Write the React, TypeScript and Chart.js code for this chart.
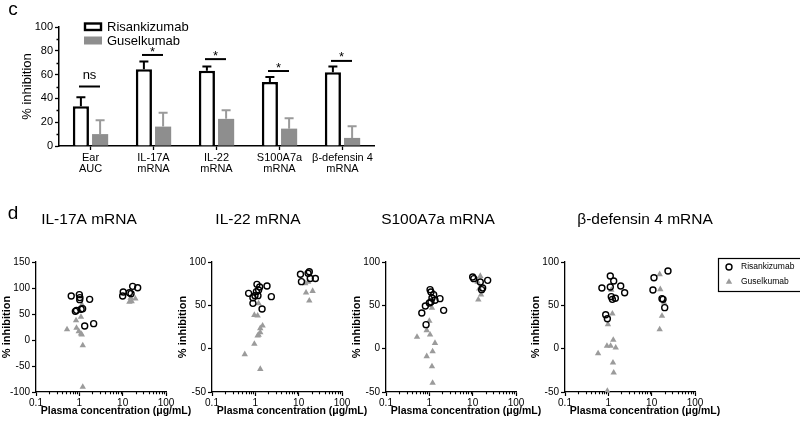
import React, { useEffect, useRef } from 'react';
import { Chart, registerables } from 'chart.js';

Chart.register(...registerables);

const FAMILY = '"Liberation Sans", Arial, Helvetica, sans-serif';

// ---------- Panel c: bar chart ----------
const barCategories = [
  ['Ear', 'AUC'],
  ['IL-17A', 'mRNA'],
  ['IL-22', 'mRNA'],
  ['S100A7a', 'mRNA'],
  ['β-defensin 4', 'mRNA'],
];
const risankizumabMean = [33.5, 64.5, 63.3, 53.8, 62.0];
const risankizumabErr = [7.5, 6.5, 3.5, 4.2, 4.8];
const guselkumabMean = [10.0, 16.3, 22.8, 14.6, 6.8];
const guselkumabErr = [11.7, 11.7, 7.2, 8.8, 9.8];
const sigLevel = [50, 76.5, 73, 63, 71.5];
const sigLabel = ['ns', '*', '*', '*', '*'];
const barYTicks = [0, 20, 40, 60, 80, 100];
const barYMinorTicks = [10, 30, 50, 70, 90];

// ---------- Panel d: scatter plots [plasma conc (µg/mL), % inhibition] ----------
const il17aRisankizumab = [
  [0.65, 84.6], [1.0, 87.2], [1.02, 77.6], [1.03, 81.5], [1.73, 78.2], [0.81, 55.1], [0.86, 57],
  [1.19, 60.3], [1.1, 59], [1.33, 26.9], [2.14, 31.4], [10.3, 92.3], [10, 84.6], [15.6, 89.1],
  [17, 103.2], [22.2, 100.6], [14.3, 91],
];
const il17aGuselkumab = [
  [0.52, 20.5], [0.84, 37.8], [1.09, 44.2], [0.86, 23.1], [0.97, 16.7], [1.09, 12.2], [1.14, 10.3],
  [1.2, -10.3], [1.2, -90.4], [1.15, 68], [14.3, 73.1], [16.1, 74.4], [19.6, 79.5], [15.3, 80.8],
];
const il22Risankizumab = [
  [0.70, 63.8], [0.88, 58.8], [0.88, 52.3], [1.09, 74.2], [1.26, 71.2], [1.19, 67.7], [1.06, 65.8],
  [1.15, 61.2], [1.86, 72.3], [2.34, 60], [1.43, 45.8], [0.98, 61.2], [11, 85.8], [11.6, 77.3],
  [17.6, 88.8], [16.5, 87], [18.5, 81], [24.3, 81],
];
const il22Guselkumab = [
  [0.57, -6.5], [0.95, 5.4], [0.95, 38.8], [1.13, 38.1], [1.19, 52.3], [1.3, 18.8], [1.13, 15],
  [1.3, 23.5], [1.47, 26.5], [1.3, -23.5], [1.19, 15.8], [14.8, 64.6], [17.6, 55.4], [21, 66.5],
  [14.2, 75.4], [16.5, 77],
];
const s100a7aRisankizumab = [
  [0.67, 41.2], [0.81, 49.2], [0.84, 27.7], [1.04, 68.1], [1.09, 65.4], [1.15, 58.5], [1.09, 53.8],
  [1.35, 55.8], [1.76, 57.7], [2.14, 44.2], [1.0, 52.7], [1.26, 62.3], [10, 82.7], [10.6, 80.8],
  [15, 76.9], [17, 70], [16.1, 68.1], [22.2, 78.8],
];
const s100a7aGuselkumab = [
  [0.52, 13.5], [0.87, 21.2], [1.04, 16.2], [1.0, 31.9], [1.15, 46.9], [1.35, 6.5], [0.87, -8.8],
  [1.19, -3.1], [1.15, -20.4], [1.19, -39.6], [13.5, 56.5], [15.6, 62.3], [15, 83.8], [13, 76.9],
  [14.2, 69.2],
];
const bdef4Risankizumab = [
  [0.71, 70], [1.11, 83.8], [1.33, 78.1], [1.11, 71.2], [1.93, 72.3], [2.38, 64.6], [1.17, 60],
  [1.45, 58.1], [1.24, 56.9], [0.87, 39.2], [0.95, 34.6], [11.3, 81.9], [23.8, 89.6], [10.7, 67.7],
  [17.3, 57.7], [18.3, 56.9], [20, 47.3],
];
const bdef4Guselkumab = [
  [0.58, -5.4], [0.93, 3.1], [1.13, 3.1], [1.3, 10], [1.48, 1.2], [1.28, -16.2], [1.33, -27.7],
  [0.95, -48.8], [1.24, 40.4], [0.98, 28.1], [1.17, 67.7], [15.3, 85.8], [15.8, 68.5], [19.3, 53.1],
  [17.3, 37.7], [15.3, 22.3],
];

const panelTitles = ['IL-17A mRNA', 'IL-22 mRNA', 'S100A7a mRNA', 'β-defensin 4 mRNA'];
const panelRisankizumab = [il17aRisankizumab, il22Risankizumab, s100a7aRisankizumab, bdef4Risankizumab];
const panelGuselkumab = [il17aGuselkumab, il22Guselkumab, s100a7aGuselkumab, bdef4Guselkumab];
const panelYMin = [-100, -50, -50, -50];
const panelYMax = [150, 100, 100, 100];
const logMajorTicks = [0.1, 1, 10, 100];
const logMajorLabels = ['0.1', '1', '10', '100'];
const logMinorTicks = [0.2, 0.3, 0.4, 0.5, 0.6, 0.7, 0.8, 0.9, 2, 3, 4, 5, 6, 7, 8, 9, 20, 30, 40, 50, 60, 70, 80, 90];

// ---------- Layout (page pixels) ----------
const BAR_BOX = { left: 0, top: 0, width: 410, height: 190, plotLeft: 59, plotRight: 374, plotTop: 27, plotBottom: 146 };
const PANEL_TOP = 200;
const PANEL_H = 224;
const PLOT_TOP = 262;
const PLOT_BOTTOM = 392;
const panelLayout = [
  { left: 0, width: 200, axisX: 36, plotRight: 166, titleX: 89 },
  { left: 176, width: 198, axisX: 212, plotRight: 342, titleX: 258 },
  { left: 350, width: 198, axisX: 386, plotRight: 516, titleX: 438 },
  { left: 529, width: 271, axisX: 565, plotRight: 695, titleX: 645 },
];

const BAR_GRAY = '#8e8e8e';
const ERR_GRAY = '#9a9a9a';
const PT_GRAY = '#9b9b9b';

type TextItem = { text: string; x: number; y: number; font: string; rotate?: number; align?: CanvasTextAlign };

function drawTexts(ctx: CanvasRenderingContext2D, items: TextItem[]) {
  for (const t of items) {
    ctx.save();
    ctx.font = t.font;
    ctx.fillStyle = '#000';
    ctx.textAlign = t.align || 'center';
    ctx.textBaseline = 'middle';
    ctx.translate(t.x, t.y);
    if (t.rotate) ctx.rotate(t.rotate);
    ctx.fillText(t.text, 0, 0);
    ctx.restore();
  }
}

function drawMinor(chart: any, axis: 'x' | 'y', values: number[], len: number, width: number) {
  const ctx = chart.ctx;
  const s = chart.scales[axis];
  ctx.save();
  ctx.strokeStyle = '#000';
  ctx.lineWidth = width;
  ctx.beginPath();
  for (const v of values) {
    const p = Math.round(s.getPixelForValue(v)) + 0.5;
    if (axis === 'y') {
      const x0 = chart.chartArea.left;
      ctx.moveTo(x0 - len, p);
      ctx.lineTo(x0, p);
    } else {
      const y0 = chart.chartArea.bottom;
      ctx.moveTo(p, y0);
      ctx.lineTo(p, y0 + len);
    }
  }
  ctx.stroke();
  ctx.restore();
}

function makeBarChart(canvas: HTMLCanvasElement) {
  const errs = [risankizumabErr, guselkumabErr];
  const errColors = ['#000', ERR_GRAY];
  const extras = {
    id: 'barExtras',
    afterDatasetsDraw(chart: any) {
      const ctx = chart.ctx;
      const y = chart.scales.y;
      const x = chart.scales.x;
      [0, 1].forEach((di) => {
        const meta = chart.getDatasetMeta(di);
        const ds = chart.data.datasets[di];
        meta.data.forEach((el: any, i: number) => {
          const top = y.getPixelForValue(ds.data[i] + errs[di][i]);
          ctx.save();
          ctx.strokeStyle = errColors[di];
          ctx.lineWidth = 2;
          ctx.beginPath();
          ctx.moveTo(el.x, el.y);
          ctx.lineTo(el.x, top);
          ctx.moveTo(el.x - 4.5, top);
          ctx.lineTo(el.x + 4.5, top);
          ctx.stroke();
          ctx.restore();
        });
      });
      sigLevel.forEach((lv, i) => {
        const cx = x.getPixelForValue(i) - 1;
        const py = y.getPixelForValue(lv);
        ctx.save();
        ctx.strokeStyle = '#000';
        ctx.lineWidth = 2;
        ctx.beginPath();
        ctx.moveTo(cx - 10.5, py);
        ctx.lineTo(cx + 10.5, py);
        ctx.stroke();
        ctx.fillStyle = '#000';
        ctx.textAlign = 'center';
        ctx.font = `13px ${FAMILY}`;
        if (sigLabel[i] === 'ns') {
          ctx.textBaseline = 'bottom';
          ctx.fillText(sigLabel[i], cx, py - 5);
        } else {
          ctx.textBaseline = 'middle';
          ctx.fillText(sigLabel[i], cx, py - 3);
        }
        ctx.restore();
      });
    },
    afterDraw(chart: any) {
      const ctx = chart.ctx;
      drawMinor(chart, 'y', barYMinorTicks, 2.5, 1.3);
      const ds0 = chart.data.datasets[0];
      const ds1 = chart.data.datasets[1];
      ctx.save();
      ctx.fillStyle = ds0.backgroundColor;
      ctx.fillRect(85, 23.5, 16, 6.5);
      ctx.strokeStyle = ds0.borderColor;
      ctx.lineWidth = 2.4;
      ctx.strokeRect(85, 23.5, 16, 6.5);
      ctx.fillStyle = ds1.backgroundColor;
      ctx.fillRect(84, 36.5, 18, 8);
      ctx.restore();
      drawTexts(ctx, [
        { text: ds0.label, x: 107, y: 27, font: `13px ${FAMILY}`, align: 'left' },
        { text: ds1.label, x: 107, y: 41, font: `13px ${FAMILY}`, align: 'left' },
        { text: 'c', x: 13, y: 10, font: `19px ${FAMILY}` },
      ]);
    },
  };

  return new Chart(canvas, {
    type: 'bar',
    data: {
      labels: barCategories as any,
      datasets: [
        {
          label: 'Risankizumab',
          data: risankizumabMean,
          backgroundColor: '#ffffff',
          borderColor: '#000000',
          borderWidth: 2.6,
          borderSkipped: 'bottom',
          categoryPercentage: 0.61,
          barPercentage: 0.84,
        },
        {
          label: 'Guselkumab',
          data: guselkumabMean,
          backgroundColor: BAR_GRAY,
          borderWidth: 0,
          categoryPercentage: 0.61,
          barPercentage: 0.84,
        },
      ],
    },
    options: {
      animation: false,
      responsive: false,
      devicePixelRatio: 1,
      layout: {
        padding: {
          left: BAR_BOX.plotLeft - 59,
          top: BAR_BOX.plotTop,
          right: BAR_BOX.width - BAR_BOX.plotRight,
          bottom: 0,
        },
      },
      plugins: { legend: { display: false }, tooltip: { enabled: false } },
      scales: {
        x: {
          grid: { offset: false, drawOnChartArea: false, drawTicks: true, tickLength: 4, tickColor: '#000', tickWidth: 1.3 },
          border: { color: '#000', width: 1.5 },
          ticks: { color: '#000', font: { family: FAMILY, size: 11, lineHeight: 1.0 }, padding: 2, maxRotation: 0, autoSkip: false },
          afterFit: (s: any) => { s.height = BAR_BOX.height - BAR_BOX.plotBottom; },
        },
        y: {
          min: 0,
          max: 100,
          afterBuildTicks: (s: any) => { s.ticks = barYTicks.map((v) => ({ value: v })); },
          ticks: { color: '#000', font: { family: FAMILY, size: 11 }, padding: 2 },
          grid: { drawOnChartArea: false, drawTicks: true, tickLength: 4, tickColor: '#000', tickWidth: 1.3 },
          border: { color: '#000', width: 1.5 },
          title: { display: true, text: '% inhibition', color: '#000', font: { family: FAMILY, size: 13 }, padding: { top: 20, bottom: 0 } },
          afterFit: (s: any) => { s.width = 59; },
        },
      },
    } as any,
    plugins: [extras],
  });
}

function makeScatter(canvas: HTMLCanvasElement, i: number) {
  const lay = panelLayout[i];
  const bold = `bold 11px ${FAMILY}`;
  const texts: TextItem[] = [
    { text: panelTitles[i], x: lay.titleX - lay.left, y: 220 - PANEL_TOP, font: `15.5px ${FAMILY}` },
    { text: '% inhibition', x: lay.axisX - 29 - lay.left, y: (PLOT_TOP + PLOT_BOTTOM) / 2 - PANEL_TOP, font: bold, rotate: -Math.PI / 2 },
    { text: 'Plasma concentration (μg/mL)', x: (lay.axisX + lay.plotRight) / 2 + 15 - lay.left, y: 411 - PANEL_TOP, font: `bold 10.5px ${FAMILY}` },
  ];
  if (i === 0) texts.push({ text: 'd', x: 13, y: 214 - PANEL_TOP, font: `19px ${FAMILY}` });

  const extras = {
    id: 'scatterExtras',
    afterDraw(chart: any) {
      const ctx = chart.ctx;
      drawMinor(chart, 'x', logMinorTicks, 2.2, 1.1);
      drawTexts(ctx, texts);
      if (i === 3) {
        const ds0 = chart.data.datasets[0];
        const ds1 = chart.data.datasets[1];
        const bx = 718 - lay.left;
        const by = 258 - PANEL_TOP;
        ctx.save();
        ctx.strokeStyle = '#000';
        ctx.lineWidth = 1.2;
        ctx.strokeRect(bx + 0.5, by + 0.5, 120, 33);
        ctx.beginPath();
        ctx.arc(bx + 11, by + 9, ds0.pointRadius, 0, Math.PI * 2);
        ctx.strokeStyle = ds0.borderColor;
        ctx.lineWidth = ds0.borderWidth;
        ctx.stroke();
        const r = ds1.pointRadius;
        const tx = bx + 11;
        const ty = by + 24;
        ctx.beginPath();
        ctx.moveTo(tx, ty - r);
        ctx.lineTo(tx + r * Math.sin(Math.PI / 3), ty + r / 2);
        ctx.lineTo(tx - r * Math.sin(Math.PI / 3), ty + r / 2);
        ctx.closePath();
        ctx.fillStyle = ds1.backgroundColor;
        ctx.fill();
        ctx.restore();
        drawTexts(ctx, [
          { text: ds0.label, x: bx + 23, y: by + 9, font: `8.5px ${FAMILY}`, align: 'left' },
          { text: ds1.label, x: bx + 23, y: by + 24, font: `8.5px ${FAMILY}`, align: 'left' },
        ]);
      }
    },
  };

  return new Chart(canvas, {
    type: 'scatter',
    data: {
      datasets: [
        {
          label: 'Risankizumab',
          data: panelRisankizumab[i].map(([x, y]) => ({ x, y })),
          pointStyle: 'circle',
          pointRadius: 3.0,
          borderWidth: 1.4,
          borderColor: '#000000',
          backgroundColor: 'rgba(255,255,255,0)',
          clip: false,
        },
        {
          label: 'Guselkumab',
          data: panelGuselkumab[i].map(([x, y]) => ({ x, y })),
          pointStyle: 'triangle',
          pointRadius: 3.7,
          borderWidth: 0,
          borderColor: PT_GRAY,
          backgroundColor: PT_GRAY,
          clip: false,
        },
      ],
    },
    options: {
      animation: false,
      responsive: false,
      devicePixelRatio: 1,
      layout: {
        padding: {
          left: 0,
          top: PLOT_TOP - PANEL_TOP,
          right: lay.width - (lay.plotRight - lay.left),
          bottom: 0,
        },
      },
      plugins: { legend: { display: false }, tooltip: { enabled: false } },
      scales: {
        x: {
          type: 'logarithmic',
          min: 0.1,
          max: 100,
          afterBuildTicks: (s: any) => { s.ticks = logMajorTicks.map((v) => ({ value: v })); },
          ticks: {
            autoSkip: false,
            maxRotation: 0,
            padding: 1,
            color: '#000',
            font: { family: FAMILY, size: 10 },
            callback: (v: any) => {
              const k = logMajorTicks.findIndex((t) => Math.abs(t - v) < 1e-9);
              return k >= 0 ? logMajorLabels[k] : '';
            },
          },
          grid: { drawOnChartArea: false, drawTicks: true, tickLength: 4, tickColor: '#000', tickWidth: 1.2 },
          border: { color: '#000', width: 1.3 },
          afterFit: (s: any) => { s.height = PANEL_TOP + PANEL_H - PLOT_BOTTOM; },
        },
        y: {
          min: panelYMin[i],
          max: panelYMax[i],
          ticks: { stepSize: 50, color: '#000', font: { family: FAMILY, size: 10 }, padding: 2 },
          grid: { drawOnChartArea: false, drawTicks: true, tickLength: 4, tickColor: '#000', tickWidth: 1.2 },
          border: { color: '#000', width: 1.3 },
          afterFit: (s: any) => { s.width = lay.axisX - lay.left; },
        },
      },
    } as any,
    plugins: [extras],
  });
}

export default function App() {
  const barRef = useRef<HTMLCanvasElement | null>(null);
  const panelRefs = useRef<(HTMLCanvasElement | null)[]>([]);

  useEffect(() => {
    const charts: Chart[] = [];
    if (barRef.current) charts.push(makeBarChart(barRef.current));
    panelRefs.current.forEach((c, i) => {
      if (c) charts.push(makeScatter(c, i));
    });
    return () => {
      charts.forEach((c) => c.destroy());
    };
  }, []);

  const pos = (l: number, t: number, w: number, h: number): React.CSSProperties => ({
    position: 'absolute',
    left: l,
    top: t,
    width: w,
    height: h,
  });

  return (
    <div style={{ position: 'fixed', left: 0, top: 0, width: 800, height: 424, background: '#fff', overflow: 'hidden' }}>
      <canvas
        ref={barRef}
        width={BAR_BOX.width}
        height={BAR_BOX.height}
        style={pos(BAR_BOX.left, BAR_BOX.top, BAR_BOX.width, BAR_BOX.height)}
      />
      {panelLayout.map((lay, i) => (
        <canvas
          key={i}
          ref={(el) => { panelRefs.current[i] = el; }}
          width={lay.width}
          height={PANEL_H}
          style={pos(lay.left, PANEL_TOP, lay.width, PANEL_H)}
        />
      ))}
    </div>
  );
}
